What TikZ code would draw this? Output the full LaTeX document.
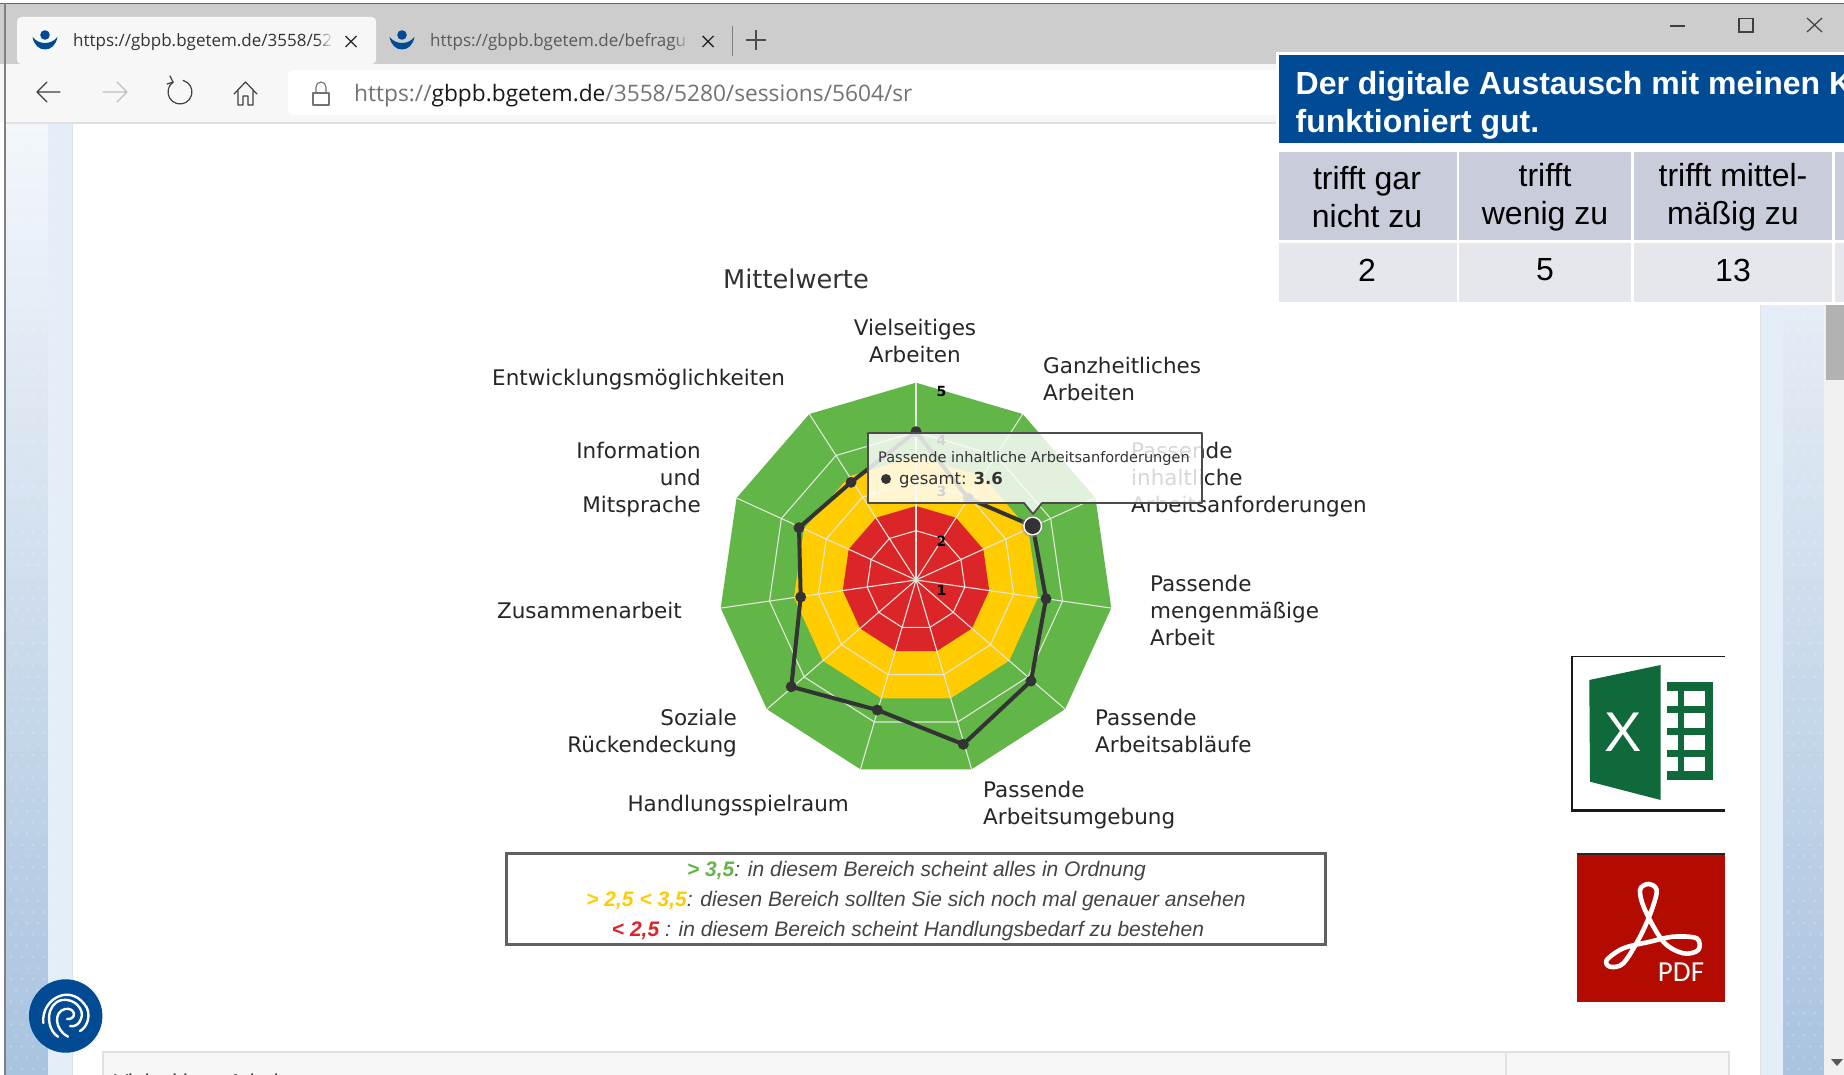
\documentclass[tikz,border=0pt]{standalone}
\usepackage{fontspec}
\setmainfont{Liberation Sans}
\newfontfamily\chartfont{DejaVu Sans}
\newfontfamily\uifont{Open Sans}
\newfontfamily\pdffont{Carlito}
\usetikzlibrary{calc,shapes.geometric}
\definecolor{bgblue}{HTML}{004B93}
\definecolor{chromegray}{HTML}{CDCDCD}
\definecolor{chromelight}{HTML}{F7F7F7}
\definecolor{headcell}{HTML}{C9CDDB}
\definecolor{valcell}{HTML}{E6E7ED}
\definecolor{stripblue}{HTML}{E3EEF8}
\definecolor{patlo}{HTML}{A9C3DF}
\definecolor{pathi}{HTML}{F3F7FB}
\definecolor{radgreen}{HTML}{62B547}
\definecolor{radyellow}{HTML}{FFCC00}
\definecolor{radred}{HTML}{DB2529}
\definecolor{webline}{HTML}{E2E6DC}
\definecolor{dataline}{HTML}{333333}
\definecolor{xlgreen}{HTML}{10693A}
\definecolor{pdfred}{HTML}{B30B00}
\definecolor{legtext}{HTML}{444444}
\tikzset{
  x=1pt,y=-1pt,
  lbl/.style={font=\chartfont\fontsize{21.5}{27}\selectfont,text=black!85,inner sep=0pt},
  cell/.style={font=\fontsize{32}{38}\selectfont,align=center,inner sep=0pt,text=black},
  tabtext/.style={font=\uifont\fontsize{17}{20}\selectfont,anchor=west,inner sep=0pt},
  axislbl/.style={font=\chartfont\bfseries\fontsize{14}{16}\selectfont,inner sep=0pt,text=black},
  legline/.style={font=\itshape\fontsize{21}{25}\selectfont,text=legtext,inner sep=0pt},
  webpath/.style={draw=webline,line width=1.1pt},
  icon/.style={draw=black!75,line width=1.2pt,line cap=round,line join=round},
  datamark/.style={circle,fill=dataline,minimum size=11pt,inner sep=0pt}
}
\newcommand{\ringpath}[1]{(-90:#1)\foreach \k in {1,...,10}{ -- ({-90+\k*360/11}:#1)} -- cycle}
\begin{document}
\begin{tikzpicture}
\useasboundingbox (0,0) rectangle (1844,1075);
\clip (0,0) rectangle (1844,1075);
\fill[white] (0,0) rectangle (1844,1075);

% side strips
\shade[top color=pathi,bottom color=patlo] (6,122) rectangle (48,1075);
\fill[stripblue] (48,122) rectangle (72,1075);
\shade[top color=pathi,bottom color=patlo] (1783,122) rectangle (1824,1075);
\fill[stripblue] (1760,122) rectangle (1783,1075);
\draw[black!12,line width=1pt] (72.5,122) -- (72.5,1075) (1760,122) -- (1760,1075);
\foreach \r in {0,...,84}{
  \foreach \c in {0,...,3}{
    \fill[white,opacity=.22] ({11+\c*11+mod(\r,2)*5},{128+\r*11.2}) circle (1.5);
    \fill[white,opacity=.22] ({1788+\c*11+mod(\r,2)*5},{128+\r*11.2}) circle (1.5);
  }
}
% scrollbar
\fill[black!6] (1824,122) rectangle (1844,1075);
\fill[black!30] (1826,303) rectangle (1844,380);
\fill[black!65] (1831,1059) -- (1843,1059) -- (1837,1066) -- cycle;

% browser chrome
\fill[chromegray] (0,3) rectangle (1844,64);
\fill[chromelight] (0,64) rectangle (1844,122);
\fill[black!12] (5,122) rectangle (1844,124);
\draw[black!60,line width=1.6pt] (0,3.5) -- (1844,3.5);
\draw[black!50,line width=2pt] (5,3) -- (5,1075);
\fill[chromelight,rounded corners=4pt] (17,64) -- (17,17) -- (376,17) -- (376,64) -- cycle;
\fill[white,rounded corners=5pt] (288,70) rectangle (1290,115);

% favicons
\foreach \fx in {45,402}{
  \fill[bgblue] (\fx-12.5,37) .. controls (\fx-11,45) and (\fx-6,49.5) .. (\fx,49.5) .. controls (\fx+6,49.5) and (\fx+11,45) .. (\fx+12.5,37) .. controls (\fx+9,41) and (\fx+5,43) .. (\fx,43) .. controls (\fx-5,43) and (\fx-9,41) .. (\fx-12.5,37) -- cycle;
  \fill[bgblue] (\fx,35) circle (4.8);
}
\node[tabtext,text=black!80] (tabone) at (73,42) {https://gbpb.bgetem.de/3558/52};
\node[tabtext,text=black!65] (tabtwo) at (430,42) {https://gbpb.bgetem.de/befragu};
\foreach \s in {0,...,7}{
  \fill[chromelight,opacity={(\s+1)/8}] ({318+\s*2},28) rectangle ({320+\s*2},54);
  \fill[chromegray,opacity={(\s+1)/8}] ({675+\s*2},28) rectangle ({677+\s*2},54);
}
\fill[chromelight] (334,28) rectangle (342,54);
\fill[chromegray] (691,28) rectangle (699,54);
\foreach \cx in {351,708}{
  \draw[black!85,line width=1.4pt] (\cx-5.5,36) -- (\cx+5.5,47) (\cx+5.5,36) -- (\cx-5.5,47);
}
\draw[black!50,line width=1pt] (732,26) -- (732,56);
\draw[black!70,line width=1.3pt] (746,40) -- (766,40) (756,30) -- (756,50);
% window buttons
\draw[black!75,line width=1.3pt] (1670,26) -- (1685,26);
\draw[black!75,line width=1.3pt] (1739,18.5) rectangle (1753,32);
\draw[black!75,line width=1.2pt] (1807,18) -- (1822,32) (1822,18) -- (1807,32);

% toolbar icons
\draw[icon] (37,92) -- (60,92) (47,82) -- (37,92) -- (47,102);
\draw[icon,draw=black!25] (103,92) -- (127,92) (117,82) -- (127,92) -- (117,102);
\draw[icon] (183.1,80.4) arc[start angle=-75,end angle=235,radius=12];
\draw[icon] (170,76) -- (173,82.2) -- (167,84);
\draw[icon] (234,94) -- (245.5,82) -- (257,94) (238,91) -- (238,105) -- (243,105) -- (243,96) -- (248,96) -- (248,105) -- (253,105) -- (253,91);
\draw[icon,draw=black!55,line width=1.1pt] (313,93) rectangle (329,105);
\draw[icon,draw=black!55,line width=1.1pt] (316,93) -- (316,87) arc[start angle=180,end angle=360,radius=5] -- (326,93);
\node[font=\uifont\fontsize{22.7}{27}\selectfont,anchor=west,inner sep=0pt] (url) at (354,96)
 {\textcolor{black!55}{https://}\textcolor{black!90}{gbpb.bgetem.de}\textcolor{black!55}{/3558/5280/sessions/5604/sr}};

% bottom panel
\fill[black!3] (103,1052) rectangle (1729,1080);
\draw[black!12,line width=1.2pt] (103,1080) -- (103,1052) -- (1729,1052) -- (1729,1080);
\draw[black!12,line width=1.2pt] (1506,1052) -- (1506,1080);
\node[font=\fontsize{21.5}{24}\selectfont,anchor=west,inner sep=0pt,text=black!80] (bottomleft) at (114,1084) {Vielseitiges Arbeiten};
\node[font=\fontsize{21.5}{24}\selectfont,anchor=west,inner sep=0pt,text=black!80] (bottomright) at (1518,1084) {0.67};

% radar chart
\begin{scope}[shift={(916,580)}]
  \fill[radgreen] \ringpath{197.3};
  \fill[radyellow] \ringpath{123.3};
  \fill[radred] \ringpath{74};
  \foreach \rr in {49.33,98.67,148}{ \draw[webpath] \ringpath{\rr}; }
  \foreach \k in {0,...,10}{ \draw[webpath] (0,0) -- ({-90+\k*360/11}:197.3); }
\end{scope}
\foreach \v/\vy in {5/391.7,4/440,3/491.7,2/541,1/590}{
  \node[axislbl] (ax\v) at (941.5,\vy) {\v};
}
\foreach \n/\px/\py in {1/916/431.7,2/968.3/498.3,3/1032.7/526,4/1046/598.7,5/1031/681,6/963.3/744.3,7/877.3/710,8/791.3/686.7,9/800.7/597,10/799/527.7,11/851/482.3}{
  \coordinate (p\n) at (\px,\py);
}
\draw[dataline,line width=4pt,line join=round] (p1) -- (p2) -- (p3) -- (p4) -- (p5) -- (p6) -- (p7) -- (p8) -- (p9) -- (p10) -- (p11) -- cycle;
\foreach \n in {1,2,4,5,6,7,8,9,10,11}{ \node[datamark] (m\n) at (p\n) {}; }

% chart texts
\node[font=\chartfont\fontsize{25.7}{30}\selectfont,text=black!80,inner sep=0pt] (title) at (796,279) {Mittelwerte};
\node[lbl,align=center] (l1) at (915,340.5) {Vielseitiges\\Arbeiten};
\node[lbl,align=left,anchor=west] (l2) at (1043,378.5) {Ganzheitliches\\Arbeiten};
\node[lbl,align=left,anchor=west] (l3) at (1131,480) {Passende\\inhaltliche\\Arbeitsanforderungen};
\node[lbl,align=left,anchor=west] (l4) at (1150,610) {Passende\\mengenmäßige\\Arbeit};
\node[lbl,align=left,anchor=west] (l5) at (1095,731) {Passende\\Arbeitsabläufe};
\node[lbl,align=left,anchor=west] (l6) at (983,805.5) {Passende\\Arbeitsumgebung};
\node[lbl,anchor=east] (l7) at (849,806) {Handlungsspielraum};
\node[lbl,align=right,anchor=east] (l8) at (737,733) {Soziale\\Rückendeckung};
\node[lbl,anchor=east] (l9) at (682,610) {Zusammenarbeit};
\node[lbl,align=right,anchor=east] (l10) at (701,480) {Information\\und\\Mitsprache};
\node[lbl,anchor=west] (l11) at (492,380) {Entwicklungsmöglichkeiten};

% tooltip
\path[fill=white,fill opacity=.82,draw=black!70,line width=1.8pt,line join=round]
  (868,433) -- (1202,433) -- (1202,503) -- (1042,503) -- (1033,514) -- (1024,503) -- (868,503) -- cycle;
\node[font=\chartfont\fontsize{14.5}{17}\selectfont,anchor=west,inner sep=0pt,text=black!80] (tiptitle) at (878,458) {Passende inhaltliche Arbeitsanforderungen};
\node[circle,fill=dataline,minimum size=10pt,inner sep=0pt] (tipdot) at (886,479) {};
\node[font=\chartfont\fontsize{16.5}{20}\selectfont,anchor=west,inner sep=0pt,text=black!80] (tipval) at (899,480) {gesamt: \textbf{3.6}};
% hover marker
\fill[black!45,opacity=.4] (p3) circle (11.5);
\fill[white] (p3) circle (9.5);
\node[circle,fill=dataline,minimum size=16pt,inner sep=0pt] (m3) at (p3) {};

% legend
\node[draw=black!62,line width=3.2pt,fill=white,minimum width=819pt,minimum height=91pt,inner sep=0pt] (legend) at (916,899) {};
\node[legline] (leg1) at (916.5,871) {\textcolor{radgreen}{\bfseries > 3,5}: in diesem Bereich scheint alles in Ordnung};
\node[legline] (leg2) at (916,901) {\textcolor{radyellow}{\bfseries > 2,5 < 3,5}: diesen Bereich sollten Sie sich noch mal genauer ansehen};
\node[legline] (leg3) at (908,931) {\textcolor{radred}{\bfseries < 2,5} : in diesem Bereich scheint Handlungsbedarf zu bestehen};

% table
\fill[white] (1275.5,52) rectangle (1844,305);
\fill[bgblue] (1278.5,55) rectangle (1844,143);
\node[font=\bfseries\fontsize{32}{38}\selectfont,text=white,anchor=west,inner sep=0pt] (hd1) at (1295.5,86) {Der digitale Austausch mit meinen K};
\node[font=\bfseries\fontsize{32}{38}\selectfont,text=white,anchor=west,inner sep=0pt] (hd2) at (1295.5,124) {funktioniert gut.};
\foreach \xa/\xb in {1278.5/1456.5,1459/1631,1634/1832,1835/1860}{
  \fill[headcell] (\xa,152) rectangle (\xb,240);
  \fill[valcell] (\xa,243) rectangle (\xb,302);
}
\node[cell] (c1) at (1367,197.5) {trifft gar\\nicht zu};
\node[cell] (c2) at (1545,197.5) {trifft\\wenig zu};
\node[cell] (c3) at (1733,197.5) {trifft mittel-\\mäßig zu};
\node[cell] (v1) at (1367,270) {2};
\node[cell] (v2) at (1545,270) {5};
\node[cell] (v3) at (1733,270) {13};

% Excel icon
\fill[black!90] (1571,656) rectangle (1725,812);
\fill[white] (1573,657) rectangle (1725,809);
\fill[xlgreen] (1589.3,680) -- (1660.7,665) -- (1660.7,800) -- (1590,781.7) -- cycle;
\node[font=\fontsize{56}{56}\selectfont,text=white,inner sep=0pt] (xlx) at (1623,732) {X};
\fill[xlgreen] (1666.7,682) rectangle (1713.3,780);
\foreach \ya/\yb in {691/706,713.3/728.3,735/750,756.7/770.7}{
  \fill[white] (1666.7,\ya) rectangle (1677.7,\yb);
  \fill[white] (1684,\ya) rectangle (1705,\yb);
}
% PDF icon
\fill[pdfred] (1577,853) rectangle (1725,1002);
\fill[black!85] (1577,853) rectangle (1725,855);
\draw[white,line width=4.6pt,line join=round]
  plot[smooth cycle,tension=.55] coordinates {(1645,910) (1640,890) (1648.3,884) (1656.7,890) (1651.7,910) (1640,936.7) (1623.3,963.3) (1610,966.7) (1606.7,960) (1623.3,948.3) (1650,941.7) (1673.3,936.7) (1696.7,938.3) (1698.3,950) (1683.3,953.3) (1663.3,941.7)};
\node[font=\pdffont\fontsize{29}{30}\selectfont,text=white,inner sep=0pt] (pdftxt) at (1681,972) {PDF};

% fingerprint button
\fill[bgblue] (65.7,1016) circle (36.7);
\begin{scope}[white,line width=2.4pt,line cap=round,fill=none]
  \draw (43.3,1023) .. controls (41,998) and (72,982) .. (87,1008) .. controls (91,1018) and (86,1028) .. (80,1031);
  \draw (58,1036.7) .. controls (45,1028) and (46,1003) .. (62,1000) .. controls (75,998) and (85,1010) .. (81,1019) .. controls (79,1025) and (74,1027) .. (70,1026);
  \draw (68,1036.7) .. controls (55,1030) and (53,1012) .. (65,1009) .. controls (76,1007) and (77,1020) .. (67,1019);
\end{scope}
\end{tikzpicture}
\end{document}
